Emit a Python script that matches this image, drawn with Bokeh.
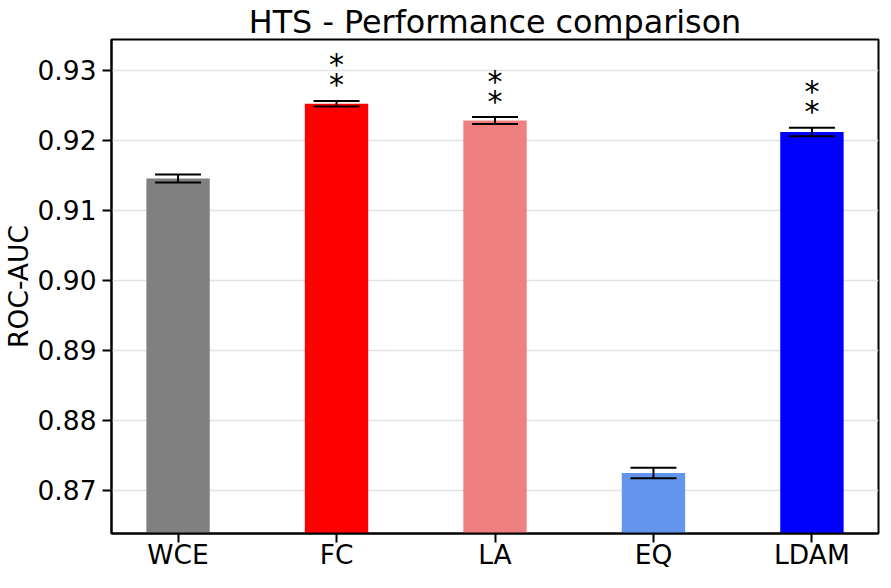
from bokeh.plotting import figure
from bokeh.models import Range1d, FixedTicker, ColumnDataSource, Whisker, TeeHead, NumeralTickFormatter
from bokeh.core.properties import value
from bokeh.embed import file_html
from bokeh.resources import INLINE

# ---- data ----
categories = ["WCE", "FC", "LA", "EQ", "LDAM"]
roc_auc = [0.91455, 0.92523, 0.92283, 0.87250, 0.92119]
roc_auc_err = [0.00058, 0.00040, 0.00050, 0.00075, 0.00060]
significance = ["", "**", "**", "", "**"]
bar_colors = ["#808080", "#ff0000", "#f08080", "#6495ed", "#0000ff"]
y_ticks = [0.87, 0.88, 0.89, 0.90, 0.91, 0.92, 0.93]

FONT = "DejaVu Sans"
xs = list(range(len(categories)))
y_lo, y_hi = 0.86385, 0.9344

p = figure(width=882, height=572, output_backend="svg", toolbar_location=None,
           x_range=Range1d(-0.42, len(categories) - 1 + 0.42),
           y_range=Range1d(y_lo, y_hi),
           min_border_left=106, min_border_right=4, min_border_top=30, min_border_bottom=4)

bars = ColumnDataSource(dict(
    x=xs, top=roc_auc, color=bar_colors,
    upper=[v + e for v, e in zip(roc_auc, roc_auc_err)],
    lower=[v - e for v, e in zip(roc_auc, roc_auc_err)],
))
p.vbar(x="x", top="top", bottom=0.8, width=0.4, fill_color="color", line_color=None, source=bars)

head_kw = dict(size=46, line_color="black", line_width=2)
p.add_layout(Whisker(base="x", upper="upper", lower="lower", source=bars, dimension="height",
                     line_color="black", line_width=2, level="annotation",
                     upper_head=TeeHead(**head_kw), lower_head=TeeHead(**head_kw)))

# significance stars
sx, sy, soff = [], [], []
for i, s in enumerate(significance):
    for k, _ in enumerate(s):
        sx.append(xs[i])
        sy.append(roc_auc[i] + roc_auc_err[i])
        soff.append(-(16 + 20 * k))
stars = ColumnDataSource(dict(x=sx, y=sy, off=soff, t=["*"] * len(sx)))
p.text(x="x", y="y", text="t", y_offset="off", source=stars, text_align="center",
       text_baseline="alphabetic", text_font=value(FONT), text_font_size="30px", text_color="black")

# title
p.title.text = "HTS - Performance comparison"
p.title.align = "center"
p.title.text_font = FONT
p.title.text_font_size = "31.8px"
p.title.text_font_style = "normal"
p.title.text_color = "black"
p.title.standoff = 0

# axes
p.xaxis.ticker = FixedTicker(ticks=xs)
p.xaxis.major_label_overrides = {i: c for i, c in zip(xs, categories)}
p.yaxis.ticker = FixedTicker(ticks=y_ticks)
p.yaxis.formatter = NumeralTickFormatter(format="0.00")
p.yaxis.axis_label = "ROC-AUC"
for ax in (p.xaxis, p.yaxis):
    ax.axis_line_color = "black"
    ax.axis_line_width = 2
    ax.major_tick_line_color = "black"
    ax.major_tick_line_width = 2
    ax.major_tick_out = 9
    ax.major_tick_in = 0
    ax.minor_tick_line_color = None
    ax.major_label_text_font = FONT
    ax.major_label_text_font_size = "26.5px"
    ax.major_label_text_color = "black"
    ax.axis_label_text_font = FONT
    ax.axis_label_text_font_size = "26.5px"
    ax.axis_label_text_font_style = "normal"
    ax.axis_label_text_color = "black"
p.xaxis.major_label_standoff = -4
p.yaxis.major_label_standoff = 6
p.yaxis.axis_label_standoff = 0

p.xgrid.visible = False
p.ygrid.grid_line_color = "#e3e3e3"
p.ygrid.grid_line_width = 1.5
p.outline_line_color = "black"
p.outline_line_width = 2
p.background_fill_color = "white"
p.border_fill_color = "white"

open("out.html", "w").write(file_html(p, INLINE))
